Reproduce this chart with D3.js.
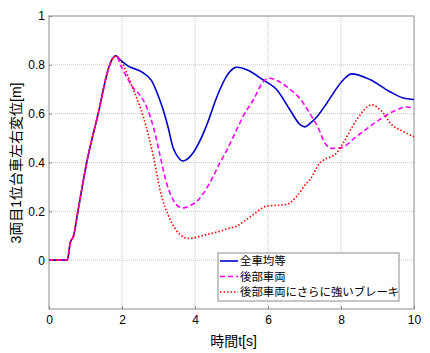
<!DOCTYPE html>
<html>
<head>
<meta charset="utf-8">
<style>
  body { margin: 0; background: #fff; }
  text { font-family: "Liberation Sans", "Noto Sans CJK JP", sans-serif; fill: #000; }
</style>
<title>3両目1位台車左右変位</title>
</head>
<body>
<script src="https://cdn.jsdelivr.net/npm/d3@7/dist/d3.min.js"></script>
<script>
// shared rise (all three cases coincide up to the first peak)
var riseT = [0, 0.5, 0.52, 0.58, 0.67, 0.8, 1.03, 1.35, 1.62, 1.72, 1.83];
var riseV = [0, 0, 0.01, 0.07, 0.098, 0.207, 0.398, 0.602, 0.78, 0.82, 0.837];

// 全車均等
var blueT = [1.95, 2.17, 2.55, 2.81, 3.0, 3.13, 3.27, 3.4, 3.5, 3.66, 3.95, 4.2, 4.41, 4.55, 4.68, 4.87, 5.05, 5.14, 5.42, 5.87, 6.24, 6.6, 6.88, 7.01, 7.15, 7.33, 7.61, 8.06, 8.29, 8.79, 9.34, 9.71, 10];
var blueV = [0.82, 0.795, 0.77, 0.735, 0.67, 0.615, 0.54, 0.46, 0.43, 0.406, 0.44, 0.51, 0.589, 0.65, 0.698, 0.755, 0.785, 0.79, 0.78, 0.738, 0.698, 0.616, 0.555, 0.546, 0.56, 0.585, 0.643, 0.738, 0.763, 0.74, 0.69, 0.664, 0.658];

// 後部車両
var magT = [1.99, 2.31, 2.49, 2.68, 2.86, 3.04, 3.22, 3.4, 3.55, 3.68, 3.85, 4.05, 4.5, 4.68, 4.87, 5.14, 5.32, 5.6, 5.87, 6.01, 6.51, 6.97, 7.15, 7.42, 7.52, 7.74, 7.97, 8.43, 8.98, 9.43, 9.8, 10];
var magV = [0.79, 0.705, 0.677, 0.625, 0.545, 0.43, 0.316, 0.248, 0.22, 0.214, 0.222, 0.241, 0.343, 0.398, 0.45, 0.534, 0.589, 0.657, 0.731, 0.745, 0.711, 0.643, 0.6, 0.527, 0.49, 0.458, 0.459, 0.507, 0.568, 0.609, 0.627, 0.623];

// 後部車両にさらに強いブレーキ
var redT = [1.95, 2.31, 2.58, 2.86, 3.04, 3.32, 3.59, 3.82, 4.32, 4.68, 4.96, 5.14, 5.35, 5.6, 5.96, 6.51, 6.79, 7.06, 7.15, 7.42, 7.52, 7.88, 8.06, 8.43, 8.84, 9.12, 9.39, 9.71, 10];
var redV = [0.82, 0.698, 0.589, 0.425, 0.289, 0.166, 0.105, 0.089, 0.105, 0.118, 0.132, 0.139, 0.16, 0.187, 0.221, 0.228, 0.262, 0.316, 0.33, 0.398, 0.41, 0.439, 0.48, 0.575, 0.636, 0.609, 0.555, 0.527, 0.505];

var xTicks = [0, 2, 4, 6, 8, 10];
var yTicks = [0, 0.2, 0.4, 0.6, 0.8, 1];
var legendNames = ["全車均等", "後部車両", "後部車両にさらに強いブレーキ"];

function pts(t, v) {
  return riseT.map(function(d, i) { return {t: d, v: riseV[i]}; })
    .concat(t.map(function(d, i) { return {t: d, v: v[i]}; }));
}

var series = [
  {name: legendNames[0], data: pts(blueT, blueV), color: "#0000cc", dash: null},
  {name: legendNames[1], data: pts(magT, magV), color: "#ff00ff", dash: "5,3"},
  {name: legendNames[2], data: pts(redT, redV), color: "#ff0000", dash: "1.5,2"}
];

var margin = {top: 16, right: 16, bottom: 44, left: 49};
var W = 430, H = 353;
var width = W - margin.left - margin.right;
var height = H - margin.top - margin.bottom;

var x = d3.scaleLinear().domain([0, 10]).range([0, width]);
var y = d3.scaleLinear().domain([-0.2, 1]).range([height, 0]);

var svg = d3.select("body").append("svg")
  .attr("width", W).attr("height", H)
  .append("g")
  .attr("transform", "translate(" + margin.left + "," + margin.top + ")");

// grid
svg.append("g").selectAll("line").data(xTicks.slice(1, -1)).enter().append("line")
  .attr("x1", function(d) { return x(d); }).attr("x2", function(d) { return x(d); })
  .attr("y1", 0).attr("y2", height)
  .attr("stroke", "#b8b8b8").attr("stroke-width", 0.8).attr("stroke-dasharray", "1,1");
svg.append("g").selectAll("line").data(yTicks.slice(0, -1)).enter().append("line")
  .attr("y1", function(d) { return y(d); }).attr("y2", function(d) { return y(d); })
  .attr("x1", 0).attr("x2", width)
  .attr("stroke", "#b8b8b8").attr("stroke-width", 0.8).attr("stroke-dasharray", "1,1");

// axes
svg.append("g").attr("transform", "translate(0," + height + ")")
  .call(d3.axisBottom(x).tickValues(xTicks).tickSize(-3).tickPadding(6).tickFormat(d3.format("d")))
  .call(function(g) {
    g.select(".domain").remove();
    g.selectAll("line").attr("stroke", "#888");
    g.selectAll("text").attr("font-size", "12px").attr("font-family", "Liberation Sans, sans-serif");
  });
svg.append("g")
  .call(d3.axisLeft(y).tickValues(yTicks).tickSize(-3).tickPadding(4).tickFormat(function(d) { return String(d); }))
  .call(function(g) {
    g.select(".domain").remove();
    g.selectAll("line").attr("stroke", "#888");
    g.selectAll("text").attr("font-size", "12px").attr("font-family", "Liberation Sans, sans-serif");
  });

svg.append("rect").attr("width", width).attr("height", height)
  .attr("fill", "none").attr("stroke", "#8c8c8c").attr("stroke-width", 1);

// lines
var line = d3.line()
  .x(function(d) { return x(d.t); })
  .y(function(d) { return y(d.v); })
  .curve(d3.curveMonotoneX);

series.forEach(function(s) {
  svg.append("path").datum(s.data)
    .attr("fill", "none")
    .attr("stroke", s.color)
    .attr("stroke-width", 1.6)
    .attr("stroke-dasharray", s.dash)
    .attr("d", line);
});

// labels
svg.append("text")
  .attr("x", width / 2 + 2).attr("y", height + 37)
  .attr("text-anchor", "middle").attr("font-size", "14px")
  .text("時間t[s]");

svg.append("text")
  .attr("transform", "rotate(-90)")
  .attr("x", -147).attr("y", -28)
  .attr("text-anchor", "middle").attr("font-size", "14px")
  .text("3両目1位台車左右変位[m]");

// legend
var lg = svg.append("g").attr("transform", "translate(" + (218 - margin.left) + "," + (253 - margin.top) + ")");
lg.append("rect").attr("width", 181).attr("height", 48)
  .attr("fill", "#fff").attr("stroke", "#8c8c8c");
series.forEach(function(s, i) {
  var yy = 8 + i * 15.5;
  lg.append("line").attr("x1", 2).attr("x2", 20).attr("y1", yy).attr("y2", yy)
    .attr("stroke", s.color).attr("stroke-width", 1.6).attr("stroke-dasharray", s.dash);
  lg.append("text").attr("x", 22).attr("y", yy + 4)
    .attr("font-size", "11.4px")
    .attr("font-family", "Noto Sans CJK JP, sans-serif")
    .text(s.name);
});
</script>
</body>
</html>
